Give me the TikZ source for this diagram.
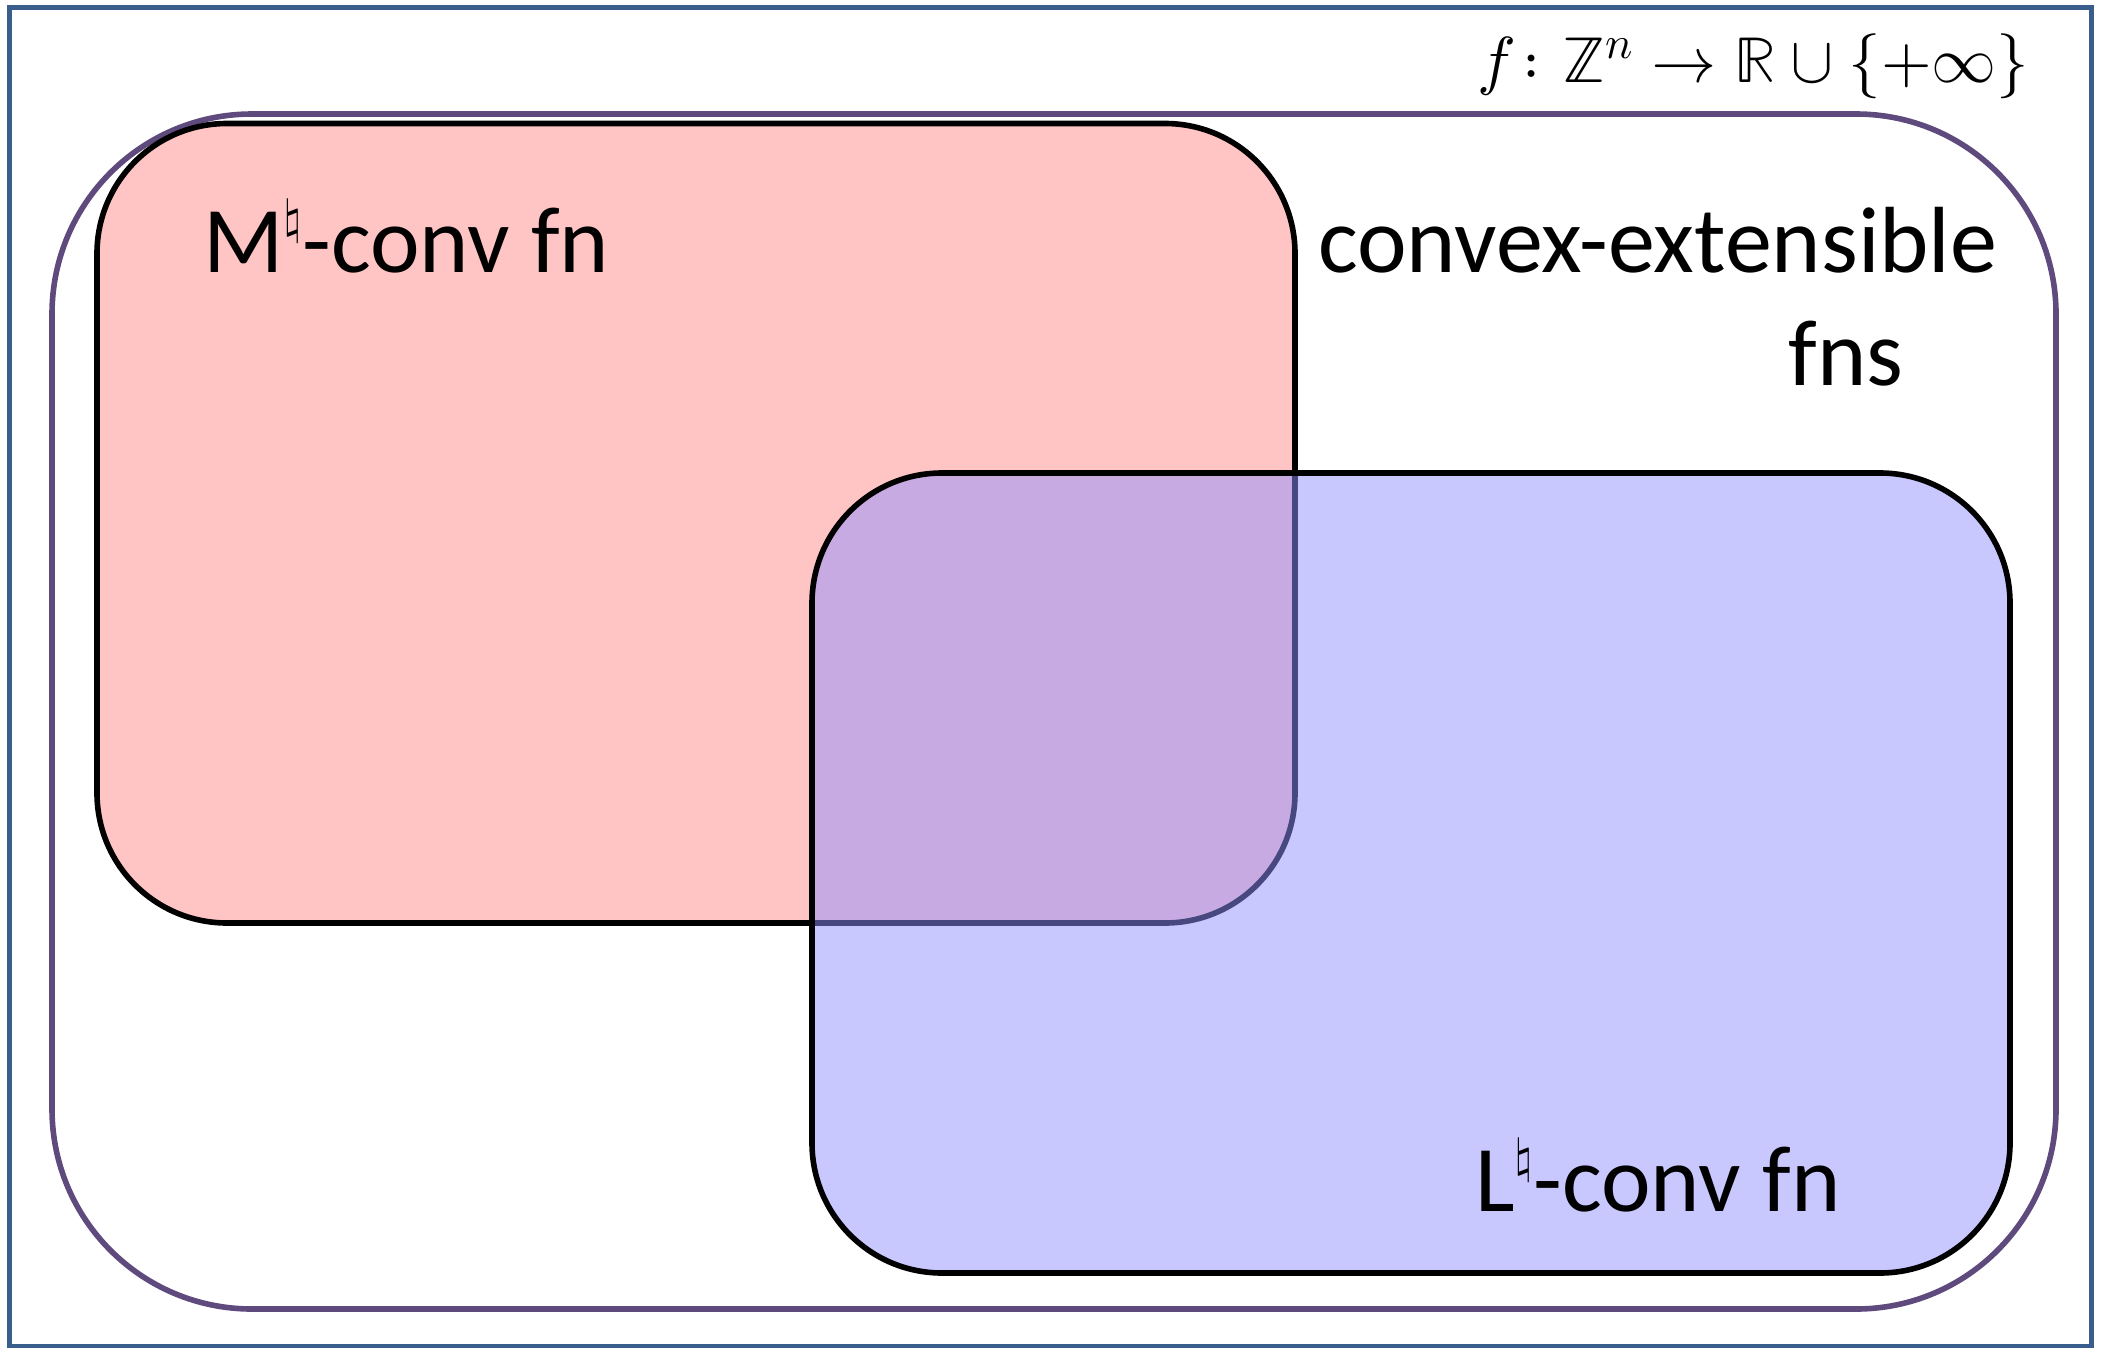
\documentclass[tikz,border=0pt]{standalone}
\usepackage{fontspec}
\usepackage{unicode-math}
\setmainfont{Carlito}
\setmathfont{Latin Modern Math}
\definecolor{framecol}{RGB}{58,94,140}
\definecolor{setcol}{RGB}{95,74,126}
\definecolor{mfill}{RGB}{255,196,196}
\definecolor{lfill}{RGB}{145,145,255}
\newcommand{\nat}{\raisebox{0.41em}{\fontsize{24}{24}\selectfont$\natural$}}
\begin{document}
\begin{tikzpicture}[x=0.5pt,y=-0.5pt,
            box/.style={line width=2.8pt,rounded corners=65pt},
            lab/.style={anchor=base west,inner sep=0pt,font=\fontsize{47}{56}\selectfont}]
            \useasboundingbox (0,0) rectangle (2103,1349);
            \draw[framecol,line width=2.4pt](9.5,7.5) rectangle (2091.5,1346);
            \draw[setcol,line width=2.8pt,rounded corners=100pt](52,114) rectangle (2056,1309);
            \filldraw[box,fill=mfill](97,123.5) rectangle (1295,923);
            \filldraw[box,fill=lfill,fill opacity=0.5](812,473) rectangle (2010,1273);
            \node[lab] (mlab) at (203,272) {M\nat-conv fn};
            \node[lab] (llab) at (1475,1211) {L\nat-conv fn};
            \node[lab] (cxlab) at (1318,272) {convex-extensible};
            \node[lab] (fnlab) at (1788,385) {fns};
            \node[anchor=base west,inner sep=0pt,font=\fontsize{32.5}{39}\selectfont] (dom) at (1477,82)
              {$f\colon\mathbb{Z}^n\to\mathbb{R}\cup\{+\infty\}$};
            \end{tikzpicture}
\end{document}
